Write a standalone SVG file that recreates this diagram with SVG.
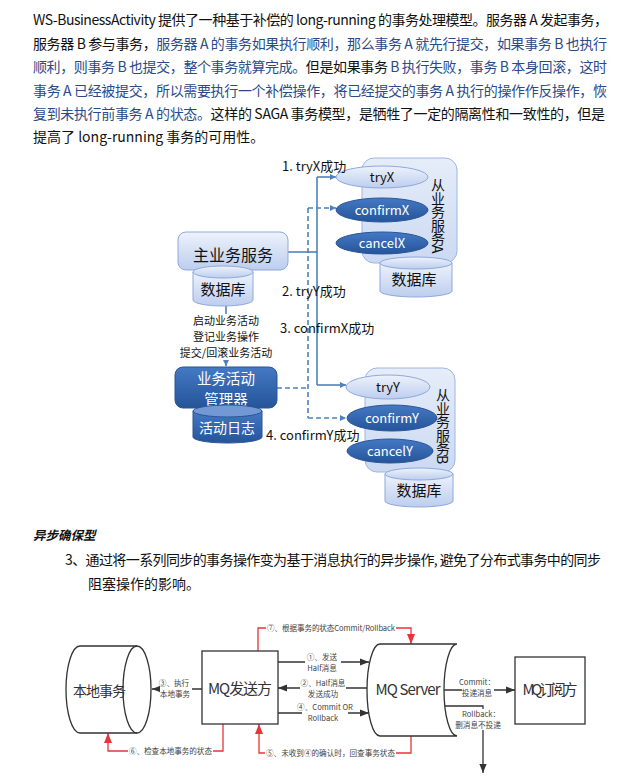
<svg xmlns="http://www.w3.org/2000/svg" width="617" height="780" viewBox="0 0 617 780">
<style>
text{font-family:"Noto Sans CJK SC","Noto Sans",sans-serif}
.p{font-size:14px;fill:#111}
.b{fill:#2b4a8a}
.lb{font-size:13px;fill:#111}
.w{fill:#fff}
.c{text-anchor:middle}
.vt{writing-mode:vertical-rl;font-size:14px;letter-spacing:-0.6px;fill:#111}
.sol{stroke:#4f81bd;stroke-width:1.6;fill:none}
.dash{stroke:#4f81bd;stroke-width:1.6;fill:none;stroke-dasharray:5 3}
.bk{stroke:#333;stroke-width:1.3;fill:none}
.rd{stroke:#e8343a;stroke-width:1.3;fill:none}
.sm{font-size:7.6px;fill:#444}
.big{font-size:15px;fill:#333}
.light{fill:url(#gl);stroke:#8ea9db;stroke-width:1}
.dark{fill:url(#gd);stroke:#2a5597;stroke-width:1}
</style>
<defs>
<linearGradient id="gl" x1="0" y1="0" x2="0" y2="1"><stop offset="0" stop-color="#eef3fc"/><stop offset="1" stop-color="#bccdee"/></linearGradient>
<linearGradient id="gc" x1="0" y1="0" x2="0" y2="1"><stop offset="0" stop-color="#e6edf9"/><stop offset="1" stop-color="#cbd9f2"/></linearGradient>
<linearGradient id="gd" x1="0" y1="0" x2="0" y2="1"><stop offset="0" stop-color="#4479c4"/><stop offset="1" stop-color="#255499"/></linearGradient>
<marker id="ab" viewBox="0 0 10 10" refX="10" refY="5" markerWidth="6" markerHeight="6" orient="auto" markerUnits="userSpaceOnUse"><path d="M0,0 L10,5 L0,10 z" fill="#4f81bd"/></marker>
<marker id="ak" viewBox="0 0 10 10" refX="10" refY="5" markerWidth="9" markerHeight="9" orient="auto" markerUnits="userSpaceOnUse"><path d="M0,1 L10,5 L0,9 z" fill="#333"/></marker>
<marker id="ar" viewBox="0 0 10 10" refX="10" refY="5" markerWidth="10" markerHeight="10" orient="auto" markerUnits="userSpaceOnUse"><path d="M0,1 L10,5 L0,9 z" fill="#e8343a"/></marker>
</defs>
<rect width="617" height="780" fill="#fff"/>

<g id="para1">
<text class="p" x="33" y="25" textLength="575" lengthAdjust="spacing">WS-BusinessActivity 提供了一种基于补偿的 long-running 的事务处理模型。服务器 A 发起事务，</text>
<text class="p" x="33" y="49" textLength="574" lengthAdjust="spacing">服务器 B 参与事务，<tspan class="b">服务器 A 的事务如果执行顺利，那么事务 A 就先行提交，如果事务 B 也执行</tspan></text>
<text class="p" x="33" y="72" textLength="574" lengthAdjust="spacing"><tspan class="b">顺利，则事务 B 也提交，整个事务就算完成。</tspan>但是如果事务 <tspan class="b">B 执行失败，事务 B 本身回滚，这时</tspan></text>
<text class="p b" x="33" y="96" textLength="574" lengthAdjust="spacing">事务 A 已经被提交，所以需要执行一个补偿操作，将已经提交的事务 A 执行的操作作反操作，恢</text>
<text class="p" x="33" y="119" textLength="572" lengthAdjust="spacing"><tspan class="b">复到未执行前事务 A 的状态。</tspan>这样的 SAGA 事务模型，是牺牲了一定的隔离性和一致性的，但是</text>
<text class="p" x="33" y="142">提高了 long-running 事务的可用性。</text>
</g>

<g id="connectors-top">
<path class="sol" d="M288,252 H317"/>
<path class="sol" d="M317,177 V385"/>
<path class="sol" d="M317,177 H336" marker-end="url(#ab)"/>
<path class="sol" d="M317,385 H346" marker-end="url(#ab)"/>
<path class="dash" d="M308,208 V418"/>
<path class="dash" d="M308,208 H336" marker-end="url(#ab)"/>
<path class="dash" d="M308,418 H346" marker-end="url(#ab)"/>
<path class="dash" d="M277,388 H308"/>
<path class="sol" d="M226,306 V366" stroke-width="1.2" marker-end="url(#ab)"/>
</g>

<g id="main-service">
<rect class="light" x="178" y="232" width="110" height="38" rx="8"/>
<text class="c" x="233" y="261" font-size="16" fill="#111">主业务服务</text>
</g>
<g id="main-db">
<path class="light" d="M193,272 V300 A30,6 0 0 0 253,300 V272 Z"/>
<ellipse class="light" cx="223" cy="272" rx="30" ry="6"/>
<text class="c" x="223" y="295" font-size="15" fill="#111">数据库</text>
</g>

<g id="labels-mid">
<rect x="172" y="314" width="108" height="46" fill="#fff"/>
<text class="c" font-size="11" fill="#111"><tspan x="226" y="325">启动业务活动</tspan><tspan x="226" y="341">登记业务操作</tspan><tspan x="226" y="357">提交/回滚业务活动</tspan></text>
</g>

<g id="activity-manager">
<rect class="dark" x="175" y="367" width="102" height="41" rx="8"/>
<text class="c w" font-size="14.5"><tspan x="226" y="384">业务活动</tspan><tspan x="226" y="405">管理器</tspan></text>
</g>
<g id="activity-log">
<path class="dark" d="M193,411 V437 A34.5,6 0 0 0 262,437 V411 Z"/>
<ellipse cx="227.5" cy="411" rx="34.5" ry="6" fill="#7299d3" stroke="#2a5597"/>
<text class="c w" x="227" y="433" font-size="14">活动日志</text>
</g>

<g id="service-a">
<rect x="362" y="158" width="95" height="105" rx="12" fill="url(#gc)" stroke="#9fb6e0"/>
<text class="vt" x="438" y="178">从业务服务A</text>
</g>
<g id="tryX"><ellipse class="light" cx="382" cy="177" rx="46" ry="11" stroke="#6f94cf"/><text class="c" x="382" y="182" font-size="13" fill="#111">tryX</text></g>
<g id="confirmX"><ellipse class="dark" cx="382" cy="210" rx="46" ry="12"/><text class="c w" x="382" y="215" font-size="13">confirmX</text></g>
<g id="cancelX"><ellipse class="dark" cx="382" cy="243" rx="46" ry="11"/><text class="c w" x="382" y="248" font-size="13">cancelX</text></g>
<g id="db-a">
<path class="light" d="M380,263 V291 A36,6 0 0 0 452,291 V263 Z"/>
<ellipse class="light" cx="416" cy="263" rx="36" ry="6"/>
<text class="c" x="414" y="285" font-size="15" fill="#111">数据库</text>
</g>

<g id="service-b">
<rect x="365" y="368" width="90" height="104" rx="12" fill="url(#gc)" stroke="#9fb6e0"/>
<text class="vt" x="443" y="388">从业务服务B</text>
</g>
<g id="tryY"><ellipse class="light" cx="388" cy="387" rx="42" ry="12" stroke="#6f94cf"/><text class="c" x="388" y="392" font-size="13" fill="#111">tryY</text></g>
<g id="confirmY"><ellipse class="dark" cx="392" cy="418" rx="45" ry="13"/><text class="c w" x="392" y="423" font-size="13">confirmY</text></g>
<g id="cancelY"><ellipse class="dark" cx="390" cy="451" rx="43" ry="12"/><text class="c w" x="390" y="456" font-size="13">cancelY</text></g>
<g id="db-b">
<path class="light" d="M385,474 V501 A34,6 0 0 0 453,501 V474 Z"/>
<ellipse class="light" cx="419" cy="474" rx="34" ry="6"/>
<text class="c" x="419" y="496" font-size="15" fill="#111">数据库</text>
</g>

<g id="labels-top">
<text class="lb" x="282" y="171">1. tryX成功</text>
<text class="lb" x="282" y="296">2. tryY成功</text>
<text class="lb" x="280" y="333">3. confirmX成功</text>
<text class="lb" x="266" y="440">4. confirmY成功</text>
</g>

<g id="para2">
<text x="33" y="540" font-size="12.5" font-weight="bold" font-style="italic" fill="#111">异步确保型</text>
<text class="p" x="65" y="565" textLength="536" lengthAdjust="spacing">3、通过将一系列同步的事务操作变为基于消息执行的异步操作, 避免了分布式事务中的同步</text>
<text class="p" x="88" y="589">阻塞操作的影响。</text>
</g>

<g id="connectors-bottom">
<path class="bk" d="M202,689 H152" marker-end="url(#ak)"/>
<path class="bk" d="M278,662 H369" marker-end="url(#ak)"/>
<path class="bk" d="M367,688 H278" marker-end="url(#ak)"/>
<path class="bk" d="M278,713 H369" marker-end="url(#ak)"/>
<path class="bk" d="M444,690 H515" marker-end="url(#ak)"/>
<path class="bk" d="M445,706 H483 V773" marker-end="url(#ak)"/>
<path class="rd" d="M258,651 V628 H411 V644" marker-end="url(#ar)"/>
<path class="rd" d="M223,724 V751 H108 V733" marker-end="url(#ar)"/>
<path class="rd" d="M411,736 V753 H259 V724" marker-end="url(#ar)"/>
<g fill="#fff">
<rect x="160" y="678" width="32" height="21"/>
<rect x="305" y="652" width="36" height="21"/>
<rect x="300" y="678" width="46" height="21"/>
<rect x="302" y="702" width="46" height="21"/>
<rect x="462" y="677" width="32" height="21"/>
<rect x="458" y="709" width="46" height="21"/>
<rect x="266" y="623" width="130" height="10"/>
<rect x="128" y="746" width="85" height="10"/>
<rect x="265" y="748" width="131" height="10"/>
</g>
<g class="sm">
<text class="c sm"><tspan x="174" y="686">③、执行</tspan><tspan x="175" y="697">本地事务</tspan></text>
<text class="c sm"><tspan x="322" y="660">①、发送</tspan><tspan x="322" y="671">Half消息</tspan></text>
<text class="c sm"><tspan x="323" y="686">②、Half消息</tspan><tspan x="323" y="697">发送成功</tspan></text>
<text class="c sm"><tspan x="325" y="710">④、Commit OR</tspan><tspan x="323" y="721">Rollback</tspan></text>
<text class="c sm"><tspan x="477" y="685">Commit：</tspan><tspan x="477" y="696">投递消息</tspan></text>
<text class="c sm"><tspan x="481" y="717">Rollback：</tspan><tspan x="478" y="728">删消息不投递</tspan></text>
<text class="sm" x="267" y="631" textLength="128">⑦、根据事务的状态Commit/Rollback</text>
<text class="sm" x="129" y="754" textLength="83">⑥、检查本地事务的状态</text>
<text class="sm" x="266" y="756" textLength="129">⑤、未收到④的确认时，回查事务状态</text>
</g>
</g>

<g id="local-tx">
<path class="bk" d="M80,646 H137 M137,733 H80 A14,43.5 0 0 1 80,646"/>
<ellipse class="bk" cx="137" cy="689.5" rx="14" ry="43.5"/>
<text x="73" y="696" font-size="14" fill="#333" textLength="53">本地事务</text>
</g>
<g id="mq-sender">
<rect class="bk" x="202" y="651" width="76" height="73"/>
<text class="c big" x="240" y="694" textLength="64">MQ发送方</text>
</g>
<g id="mq-server">
<path class="bk" d="M380,644 H457 A13,46 0 0 0 457,736 H380 A13,46 0 0 1 380,644 Z"/>
<text class="c big" x="408" y="695" textLength="65">MQ Server</text>
</g>
<g id="mq-subscriber">
<rect class="bk" x="515" y="657" width="70" height="67"/>
<text class="c big" x="550" y="695" textLength="55">MQ订阅方</text>
</g>
</svg>
